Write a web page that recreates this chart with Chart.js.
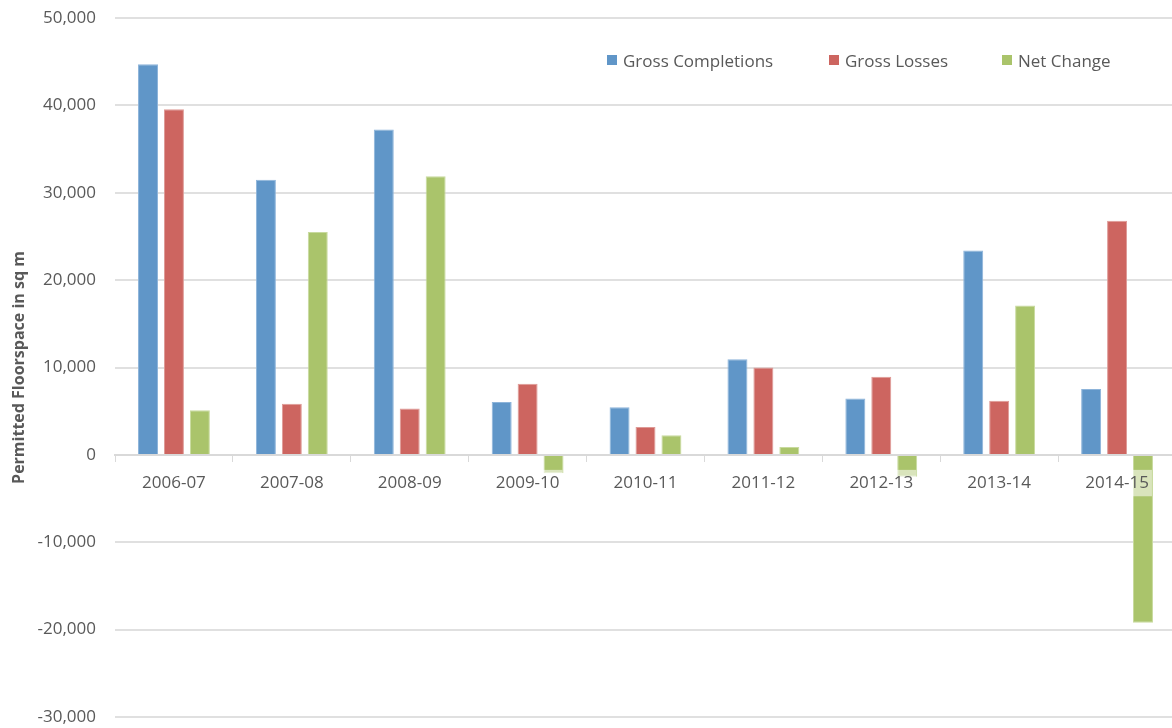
<!DOCTYPE html>
<html>
<head>
<meta charset="utf-8">
<title>Permitted Floorspace</title>
<script src="https://cdn.jsdelivr.net/npm/chart.js@4/dist/chart.umd.min.js"></script>
<style>
    html, body {
        margin: 0;
        padding: 0;
        background: #fff;
        overflow: hidden;
    }
    #chartWrap {
        position: relative;
        width: 1176px;
        height: 728px;
    }
    .legend-item {
        position: absolute;
        top: 49px;
        height: 22px;
        display: flex;
        align-items: center;
        font-family: "Open Sans", sans-serif;
        font-size: 17px;
        color: #595959;
        white-space: nowrap;
    }
    .legend-item .swatch {
        width: 10px;
        height: 10px;
        margin-right: 6px;
    }
</style>
</head>
<body>
<div id="chartWrap">
    <canvas id="floorspaceChart"></canvas>
    <div id="legend"></div>
</div>

<script>
// Financial years
const categories = ['2006-07', '2007-08', '2008-09', '2009-10', '2010-11', '2011-12', '2012-13', '2013-14', '2014-15'];

// Floorspace in sq m
const grossCompletions = [44700, 31500, 37250, 6050, 5450, 10950, 6450, 23400, 7550];
const grossLosses = [39550, 5850, 5300, 8150, 3200, 10000, 8950, 6200, 26800];
const netChange = [5100, 25500, 31900, -2100, 2250, 900, -2500, 17100, -19200];

// Axis range
const yMin = -30000;
const yMax = 50000;
const yStep = 10000;

const seriesNames = ['Gross Completions', 'Gross Losses', 'Net Change'];
const seriesColors = ['#6096C8', '#CD6560', '#AAC46B'];
const seriesEdges = ['#8DB4DA', '#DE9A96', '#C8DA9E'];

const FONT = '"Open Sans", sans-serif';
const TEXT = '#595959';
const GRID = '#e0e0e0';

function buildDatasets() {
    const values = [grossCompletions, grossLosses, netChange];
    return values.map((data, i) => ({
        label: seriesNames[i],
        data: data,
        backgroundColor: seriesColors[i],
        borderColor: seriesEdges[i],
        borderWidth: 1,
        categoryPercentage: 0.66,
        barPercentage: 0.77
    }));
}

// Legend sits inside the plot area, top right
function buildLegend() {
    const legend = document.getElementById('legend');
    const lefts = [607, 829, 1002];
    legend.innerHTML = seriesNames.map((name, i) => `
        <div class="legend-item" style="left:${lefts[i]}px">
            <span class="swatch" style="background:${seriesColors[i]}"></span>
            <span>${name}</span>
        </div>
    `).join('');
}

function createChart() {
    const ctx = document.getElementById('floorspaceChart').getContext('2d');

    return new Chart(ctx, {
        type: 'bar',
        data: {
            labels: categories,
            datasets: buildDatasets()
        },
        options: {
            responsive: true,
            maintainAspectRatio: false,
            animation: false,
            layout: {
                padding: { top: 18, bottom: 11, left: 0, right: 0 }
            },
            plugins: {
                legend: { display: false },
                tooltip: { enabled: false }
            },
            scales: {
                x: {
                    position: { y: 0 },
                    offset: true,
                    grid: {
                        offset: true,
                        drawOnChartArea: false,
                        drawTicks: true,
                        tickLength: 6,
                        color: '#d9d9d9',
                        lineWidth: 1
                    },
                    border: { display: true, color: '#d9d9d9', width: 2 },
                    ticks: {
                        z: 1,
                        color: TEXT,
                        font: { family: FONT, size: 17 },
                        padding: 12,
                        maxRotation: 0,
                        showLabelBackdrop: true,
                        backdropColor: 'rgba(255,255,255,0.55)',
                        backdropPadding: 3
                    }
                },
                y: {
                    min: yMin,
                    max: yMax,
                    grid: {
                        color: GRID,
                        lineWidth: 2,
                        drawTicks: false
                    },
                    border: { display: false },
                    ticks: {
                        stepSize: yStep,
                        color: TEXT,
                        font: { family: FONT, size: 17 },
                        padding: 19,
                        callback: v => v.toLocaleString('en-US')
                    },
                    title: {
                        display: true,
                        text: 'Permitted Floorspace in sq m',
                        color: TEXT,
                        font: { family: FONT, size: 16, weight: 'bold' },
                        padding: { top: 10, bottom: 0 }
                    },
                    afterFit: scale => {
                        scale.width = 115;
                        scale.paddingTop = 0;
                        scale.paddingBottom = 0;
                    }
                }
            }
        }
    });
}

document.addEventListener('DOMContentLoaded', () => {
    buildLegend();
    window.floorspaceChart = createChart();
});
</script>
</body>
</html>
